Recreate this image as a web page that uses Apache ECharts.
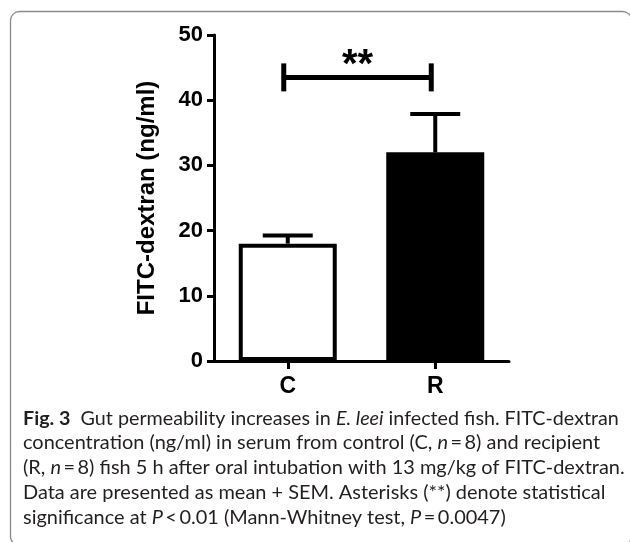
<!DOCTYPE html>
<html>
<head>
<meta charset="utf-8">
<script src="https://cdn.jsdelivr.net/npm/echarts@6/dist/echarts.min.js"></script>
<style>
html,body{margin:0;padding:0;background:#fff;}
#chart{width:630px;height:542px;}
</style>
</head>
<body>
<div id="chart"></div>
<script>
// ---- data ----
const categories = ['C', 'R'];
const means = [18.0, 32.0];
const sems = [1.25, 5.9];
const yTicks = [0, 10, 20, 30, 40, 50];
const bracketLevel = 43.5;     // y value of the significance bracket
const bracketLabel = '**';
const yTitle = 'FITC-dextran (ng/ml)';
const captionLines = [
  '{b|Fig. 3}  Gut permeability increases in {i|E. leei} infected fish. FITC-dextran',
  'concentration (ng/ml) in serum from control (C, {i|n}\u2009=\u20098) and recipient',
  '(R, {i|n}\u2009=\u20098) fish 5 h after oral intubation with 13 mg/kg of FITC-dextran.',
  'Data are presented as mean + SEM. Asterisks (**) denote statistical',
  'significance at {i|P}\u2009<\u20090.01 (Mann-Whitney test, {i|P}\u2009=\u20090.0047)'
];
const captionTargetWidths = [596, 591, 595, 556, 500];

const FONT = 'Arial, "Liberation Sans", sans-serif';
const CAP_FONT = 'Lato, "Open Sans", sans-serif';

// measure rich caption line widths to pick font sizes
const cv = document.createElement('canvas').getContext('2d');
function measureRich(line, fs) {
  let w = 0; const re = /\{(b|i)\|([^}]*)\}/g; let last = 0, m;
  const seg = (t, pre) => { cv.font = pre + fs + 'px ' + CAP_FONT; w += cv.measureText(t).width; };
  while ((m = re.exec(line))) {
    seg(line.slice(last, m.index), '');
    seg(m[2], m[1] === 'b' ? 'bold ' : 'italic ');
    last = re.lastIndex;
  }
  seg(line.slice(last), '');
  return w;
}
const base = 20;
const ratios = captionLines.map((l, k) => captionTargetWidths[k] / measureRich(l, base));
const rest = ratios.slice(1);
const common = base * rest.reduce((a, b) => a + b, 0) / rest.length;
const sizes = captionLines.map((l, k) => k === 0 ? Math.min(common, base * ratios[0]) : common);

const chart = echarts.init(document.getElementById('chart'), null, {renderer: 'canvas'});

const captionY0 = 420, captionStep = 25;
const captionGraphics = captionLines.map((t, k) => {
  const fs = sizes[k];
  return {
    type: 'text', left: 23, top: captionY0 + k * captionStep - fs * 0.6,
    style: {
      text: t, fill: '#231f20', font: fs + 'px ' + CAP_FONT,
      rich: {
        b: {fontWeight: 'bold', fontSize: fs, fontFamily: CAP_FONT, fill: '#231f20'},
        i: {fontStyle: 'italic', fontSize: fs, fontFamily: CAP_FONT, fill: '#231f20'}
      }
    }
  };
});

const option = {
  animation: false,
  backgroundColor: '#fff',
  grid: {left: 214, right: 121, top: 35, bottom: 181, containLabel: false},
  xAxis: {
    type: 'category', data: categories,
    axisLine: {lineStyle: {color: '#000', width: 3}},
    axisTick: {show: true, alignWithLabel: true, length: 8, lineStyle: {color: '#000', width: 3}},
    axisLabel: {color: '#000', fontWeight: 'bold', fontSize: 23, fontFamily: FONT, margin: 14}
  },
  yAxis: {
    type: 'value', min: yTicks[0], max: yTicks[yTicks.length - 1], interval: 10,
    name: yTitle, nameLocation: 'middle', nameGap: 55,
    nameTextStyle: {color: '#000', fontWeight: 'bold', fontSize: 24, fontFamily: FONT},
    axisLine: {show: true, lineStyle: {color: '#000', width: 3}},
    axisTick: {show: true, length: 7, lineStyle: {color: '#000', width: 3}},
    splitLine: {show: false},
    axisLabel: {color: '#000', fontWeight: 'bold', fontSize: 22, fontFamily: FONT, margin: 11}
  },
  series: [
    {
      type: 'bar', barWidth: 98,
      data: means.map((v, i) => ({
        value: v,
        itemStyle: i === 0
          ? {color: '#fff', borderColor: '#000', borderWidth: 4}
          : {color: '#000', borderColor: '#000', borderWidth: 4}
      })),
      z: 2
    },
    {
      type: 'custom', z: 3,
      data: means.map((v, i) => [i, v, sems[i]]),
      renderItem: function (params, api) {
        const x = api.value(0), m = api.value(1), e = api.value(2);
        const p0 = api.coord([x, m]);
        const p1 = api.coord([x, m + e]);
        const st = {stroke: '#000', lineWidth: 4};
        return {
          type: 'group', children: [
            {type: 'line', shape: {x1: p0[0], y1: p0[1], x2: p1[0], y2: p1[1]}, style: st},
            {type: 'line', shape: {x1: p1[0] - 25, y1: p1[1], x2: p1[0] + 25, y2: p1[1]}, style: st}
          ]
        };
      }
    },
    {
      type: 'custom', z: 3,
      data: [[0, 1, bracketLevel]],
      renderItem: function (params, api) {
        const a = api.coord([api.value(0), api.value(2)]);
        const b = api.coord([api.value(1), api.value(2)]);
        const xa = a[0] - 4, xb = b[0] - 4, y = a[1];
        const st = {stroke: '#000', lineWidth: 5};
        return {
          type: 'group', children: [
            {type: 'line', shape: {x1: xa, y1: y, x2: xb, y2: y}, style: st},
            {type: 'line', shape: {x1: xa, y1: y - 14, x2: xa, y2: y + 14}, style: st},
            {type: 'line', shape: {x1: xb, y1: y - 14, x2: xb, y2: y + 14}, style: st},
            {type: 'text', style: {text: bracketLabel, x: (xa + xb) / 2, y: y - 11,
              align: 'center', verticalAlign: 'middle', fill: '#000',
              font: 'bold 40px ' + FONT}}
          ]
        };
      }
    }
  ],
  graphic: [
    {type: 'rect', shape: {x: 10.5, y: 11.5, width: 621, height: 534, r: 9},
     style: {fill: 'none', stroke: '#8a8a8a', lineWidth: 1.3}, silent: true, z: -1}
  ].concat(captionGraphics)
};
chart.setOption(option);
</script>
</body>
</html>
